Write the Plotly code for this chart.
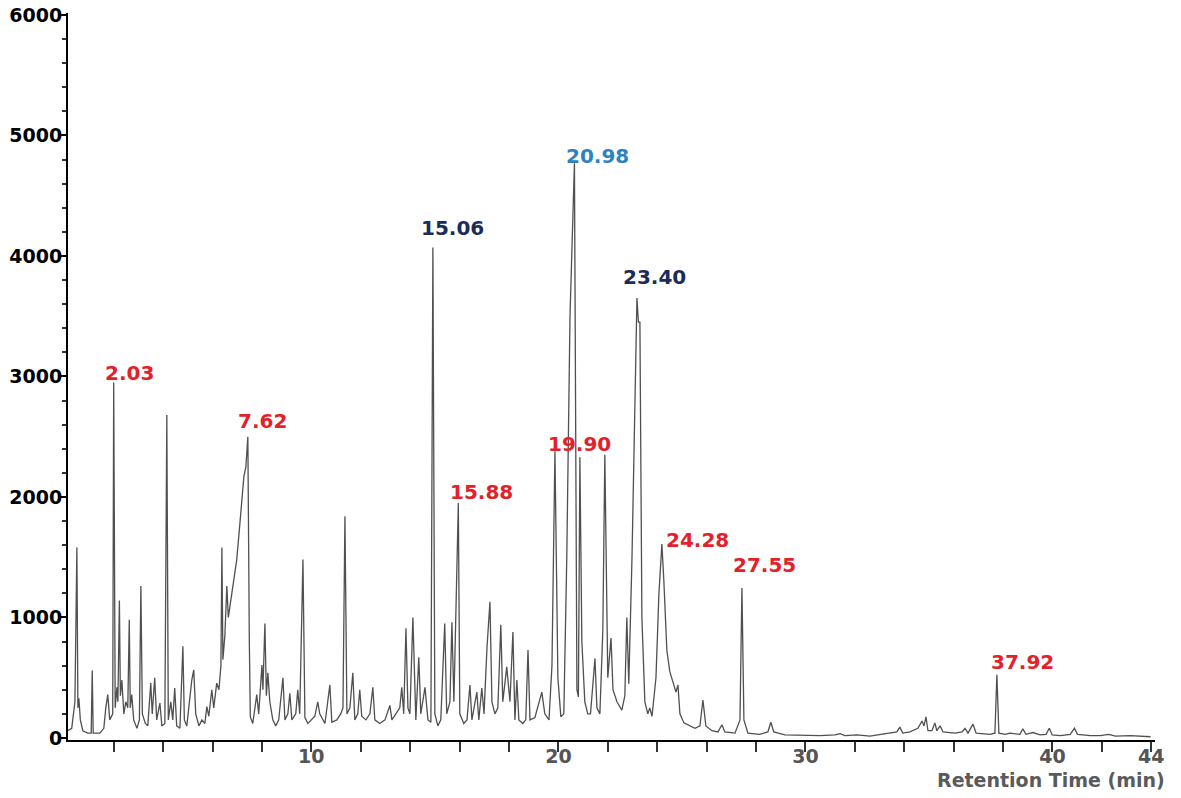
import plotly.graph_objects as go

# ---- chromatogram trace (time in min, intensity) ----
time_min = [
    0.14, 0.30, 0.43, 0.51, 0.55, 0.59, 0.65, 0.75, 0.95, 1.09, 1.13, 1.17, 1.44, 1.60, 1.68, 1.76, 1.84, 1.96,
    2.00, 2.06, 2.13, 2.17, 2.23, 2.27, 2.33, 2.41, 2.49, 2.57, 2.63, 2.67, 2.73, 2.81, 2.94, 3.04, 3.10, 3.16,
    3.28, 3.38, 3.50, 3.56, 3.66, 3.74, 3.87, 3.95, 4.07, 4.15, 4.21, 4.31, 4.39, 4.47, 4.55, 4.68, 4.80, 4.86,
    4.96, 5.08, 5.16, 5.24, 5.32, 5.45, 5.57, 5.69, 5.77, 5.85, 5.97, 6.05, 6.17, 6.26, 6.34, 6.38, 6.42, 6.50,
    6.58, 6.64, 6.78, 6.90, 6.98, 7.11, 7.27, 7.35, 7.43, 7.49, 7.53, 7.63, 7.79, 7.87, 8.00, 8.04, 8.12, 8.18,
    8.24, 8.32, 8.44, 8.56, 8.68, 8.85, 8.93, 9.05, 9.13, 9.21, 9.37, 9.45, 9.53, 9.66, 9.74, 9.86, 10.02, 10.14,
    10.26, 10.34, 10.55, 10.75, 10.83, 11.03, 11.19, 11.28, 11.36, 11.44, 11.56, 11.68, 11.76, 11.88, 11.96, 12.04,
    12.21, 12.37, 12.49, 12.57, 12.77, 12.98, 13.18, 13.26, 13.42, 13.58, 13.66, 13.74, 13.83, 13.91, 13.99, 14.11,
    14.23, 14.35, 14.43, 14.60, 14.72, 14.84, 14.92, 15.00, 15.12, 15.24, 15.40, 15.48, 15.61, 15.69, 15.77, 15.89,
    15.95, 16.01, 16.17, 16.30, 16.42, 16.50, 16.70, 16.78, 16.90, 16.99, 17.11, 17.23, 17.31, 17.43, 17.55, 17.67,
    17.75, 17.91, 18.04, 18.16, 18.24, 18.32, 18.40, 18.56, 18.68, 18.77, 18.85, 19.05, 19.21, 19.33, 19.45, 19.62,
    19.74, 19.86, 19.98, 20.10, 20.22, 20.34, 20.47, 20.65, 20.75, 20.81, 20.87, 20.95, 21.07, 21.19, 21.30, 21.48,
    21.56, 21.68, 21.80, 21.88, 22.00, 22.13, 22.21, 22.37, 22.57, 22.69, 22.77, 22.85, 22.98, 23.10, 23.18, 23.24,
    23.30, 23.38, 23.50, 23.62, 23.70, 23.79, 23.95, 24.07, 24.19, 24.27, 24.39, 24.51, 24.64, 24.76, 24.84, 24.92,
    25.08, 25.32, 25.53, 25.73, 25.85, 25.97, 26.21, 26.46, 26.62, 26.74, 27.15, 27.35, 27.43, 27.51, 27.67, 28.15,
    28.48, 28.60, 28.72, 29.17, 30.59, 31.20, 31.40, 31.60, 32.09, 32.61, 33.42, 33.70, 33.82, 33.94, 34.23, 34.55,
    34.72, 34.80, 34.88, 34.96, 35.12, 35.24, 35.32, 35.45, 35.57, 36.05, 36.34, 36.46, 36.58, 36.78, 36.91, 37.47,
    37.67, 37.75, 37.83, 38.08, 38.28, 38.68, 38.80, 38.93, 39.21, 39.50, 39.74, 39.87, 39.99, 40.32, 40.72, 40.89,
    41.01, 41.54, 41.94, 42.27, 42.55, 43.16, 43.97,
]
intensity = [
    60, 80, 300, 1580, 250, 330, 150, 60, 40, 40, 560, 40, 40, 80, 250, 360, 150, 200,
    2950, 250, 420, 300, 1140, 350, 480, 200, 300, 250, 980, 250, 360, 150, 80, 150, 1260, 200,
    120, 100, 455, 200, 500, 150, 290, 100, 120, 2680, 150, 300, 150, 415, 100, 80, 760, 150,
    100, 350, 480, 565, 200, 100, 150, 120, 260, 180, 400, 250, 455, 400, 600, 1580, 650, 850,
    1260, 1000, 1190, 1370, 1480, 1785, 2170, 2250, 2500, 800, 175, 120, 360, 200, 605, 400, 950, 350,
    540, 300, 150, 100, 150, 500, 150, 200, 370, 150, 200, 400, 200, 1480, 170, 120, 150, 180,
    300, 200, 120, 440, 130, 150, 200, 250, 1840, 200, 250, 540, 150, 200, 400, 180,
    150, 200, 420, 150, 120, 150, 270, 150, 200, 250, 420, 200, 910, 250, 200, 1000,
    150, 670, 200, 420, 150, 130, 4070, 200, 100, 150, 950, 200, 300, 960, 300, 1330,
    1950, 200, 120, 150, 440, 150, 380, 150, 415, 200, 750, 1130, 300, 200, 250, 940,
    300, 590, 300, 880, 150, 480, 150, 120, 150, 730, 150, 170, 300, 380, 200, 150,
    600, 2380, 500, 175, 200, 1500, 3500, 4770, 400, 340, 2330, 800, 300, 200, 200, 660,
    250, 200, 900, 2350, 500, 830, 400, 300, 230, 350, 1000, 450, 1500, 3000, 3650, 3450,
    3450, 1000, 300, 200, 250, 180, 500, 1200, 1610, 1300, 730, 550, 450, 380, 440, 200,
    125, 100, 80, 100, 315, 100, 60, 50, 110, 50, 40, 150, 1245, 150, 40, 30,
    50, 130, 50, 25, 20, 25, 35, 20, 25, 15, 40, 50, 90, 40, 50, 80,
    140, 100, 175, 60, 60, 125, 60, 100, 50, 40, 50, 80, 40, 115, 40, 30,
    40, 525, 40, 30, 40, 30, 75, 30, 45, 25, 30, 80, 25, 20, 30, 80,
    30, 20, 20, 30, 15, 20, 10,
]

# ---- peak labels (text and anchor point in data units) ----
peak_labels = ["2.03", "7.62", "15.06", "15.88", "19.90", "20.98", "23.40", "24.28", "27.55", "37.92"]
label_t = [2.65, 8.04, 15.73, 16.90, 20.87, 21.60, 23.91, 25.65, 28.36, 38.77]
label_y = [3030, 2631, 4233, 2042, 2440, 4831, 3826, 1643, 1436, 631]
label_group = ["red", "red", "navy", "red", "red", "blue", "navy", "red", "red", "red"]

# ---- axis ticks ----
y_ticks = [0, 1000, 2000, 3000, 4000, 5000, 6000]
x_ticks = list(range(2, 45, 2))
x_labeled = [10, 20, 30, 40, 44]

group_colors = {"red": "#e3212b", "navy": "#1c2b58", "blue": "#2f83bd"}
FONT = "DejaVu Sans"

fig = go.Figure()
fig.add_trace(go.Scatter(
    x=time_min, y=intensity, mode="lines",
    line=dict(color="#505050", width=1.3),
    hoverinfo="skip", showlegend=False,
))

for txt, t, yv, g in zip(peak_labels, label_t, label_y, label_group):
    fig.add_annotation(
        x=t, y=yv, text=txt, showarrow=False,
        xanchor="center", yanchor="middle",
        font=dict(family=FONT, size=20, color=group_colors[g], weight="bold"),
    )

fig.add_annotation(
    xref="paper", yref="paper", x=1, y=0, xanchor="right", yanchor="middle",
    xshift=12, yshift=-40, showarrow=False, text="Retention Time (min)",
    font=dict(family=FONT, size=19, color="#5a5a5a", weight="bold"),
)

# page body adds an 8px offset; sizes/margins compensate so the plot lands where the reference has it
fig.update_layout(
    width=1165, height=782,
    margin=dict(l=60, r=18, t=5, b=50, autoexpand=False),
    paper_bgcolor="white", plot_bgcolor="white",
    showlegend=False,
)
fig.update_xaxes(
    range=[0.15, 44.15], showgrid=False, zeroline=False, automargin=False,
    showline=True, linecolor="black", linewidth=2,
    tickmode="array", tickvals=x_ticks,
    ticktext=[str(v) if v in x_labeled else "" for v in x_ticks],
    ticks="outside", ticklen=10, tickwidth=2, tickcolor="#333",
    tickfont=dict(family=FONT, size=19, color="#555", weight="bold"),
    ticklabelstandoff=-12, ticklabeloverflow="allow",
)
fig.update_yaxes(
    range=[-17, 6016], showgrid=False, zeroline=False, automargin=False,
    showline=True, linecolor="black", linewidth=2,
    tickmode="array", tickvals=y_ticks,
    ticks="outside", ticklen=6, tickwidth=2, tickcolor="black",
    tickfont=dict(family=FONT, size=19, color="black", weight="bold"),
    ticklabelstandoff=-6, ticklabeloverflow="allow",
    minor=dict(dtick=200, tick0=0, ticks="outside", ticklen=4, tickwidth=1.5, tickcolor="#333"),
)

fig.write_html("out.html")
